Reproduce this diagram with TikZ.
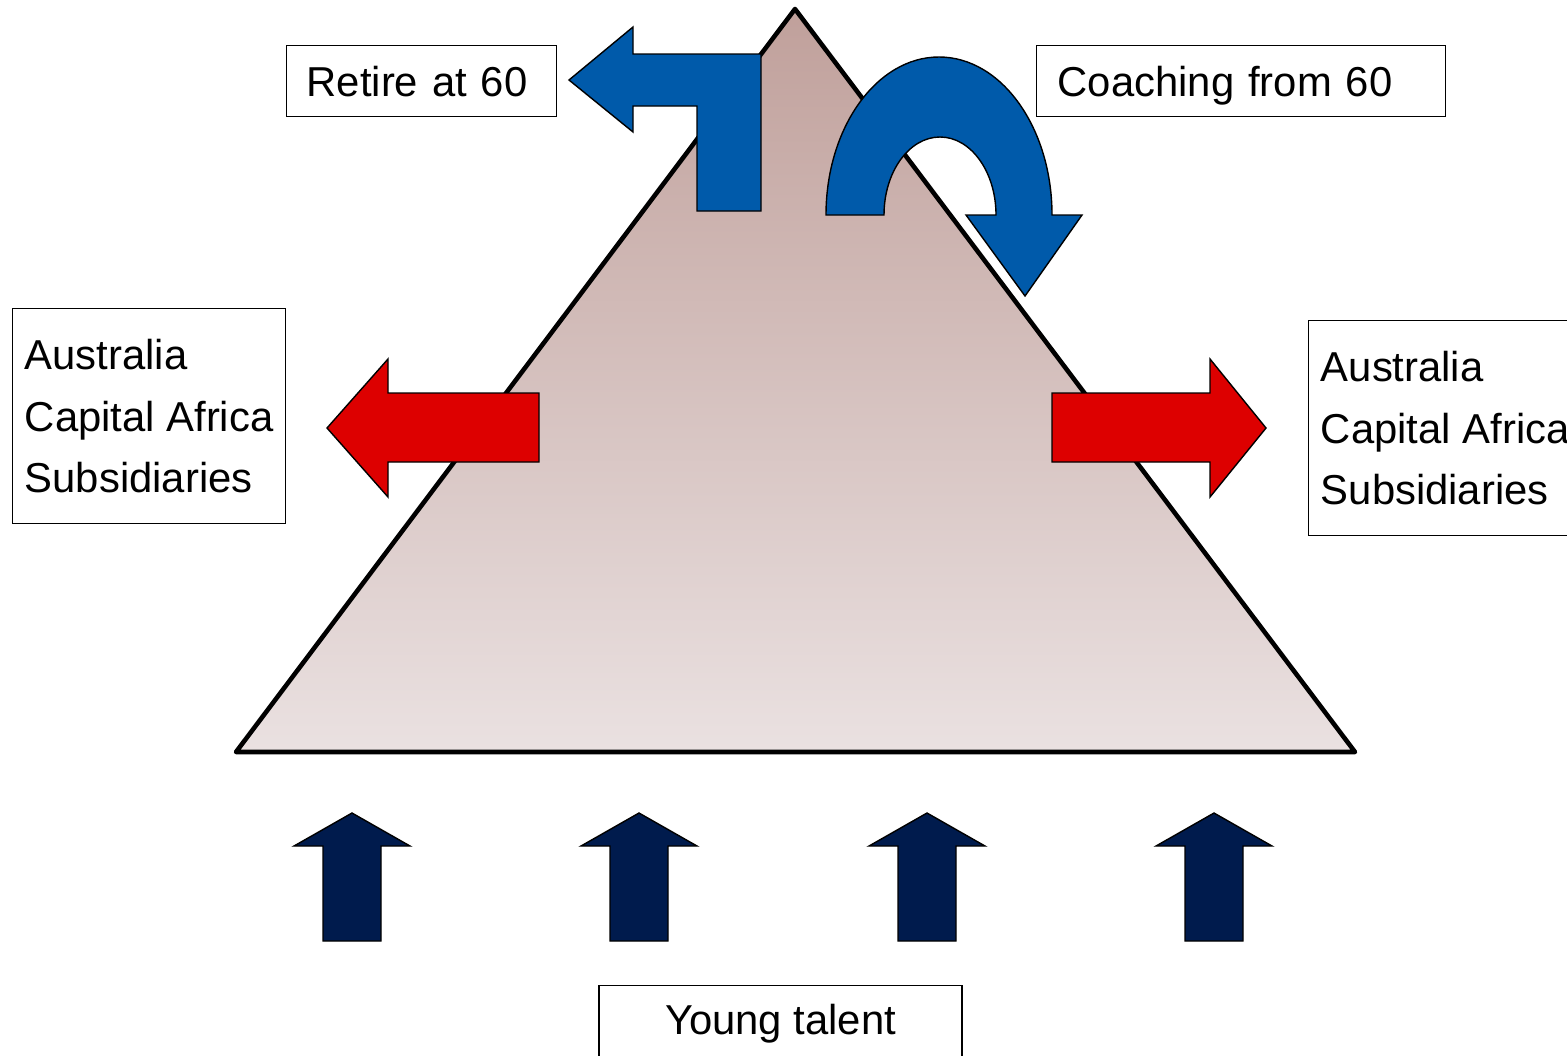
\documentclass[tikz,border=0pt]{standalone}
\usepackage{fontspec}
\setmainfont{Liberation Sans}
\usetikzlibrary{positioning}

\definecolor{pyrtop}{RGB}{192,160,155}
\definecolor{pyrbot}{RGB}{234,225,225}
\definecolor{moveblue}{RGB}{0,90,170}
\definecolor{movered}{RGB}{221,0,0}
\definecolor{talentnavy}{RGB}{0,27,77}

\begin{document}
\begin{tikzpicture}[
    x=0.02cm, y=-0.02cm,
    box/.style={draw, line width=0.8pt, align=left, inner ysep=0pt, anchor=north west, font=\fontsize{23.8}{35}\selectfont},
    tagbox/.style={box, text height=17pt, text depth=0pt, minimum height=1.42cm},
    pyramid/.style={draw, line width=2.6pt, line join=round, top color=pyrtop, bottom color=pyrbot},
    blockarrow/.style={draw, line width=0.8pt}
]
\useasboundingbox (0,0) rectangle (1567,1055);
\clip (0,0) rectangle (1567,1055);

% pyramid
\coordinate (apex) at (795,9);
\coordinate (baseR) at (1355,752);
\coordinate (baseL) at (236,752);
\draw[pyramid] (apex) -- (baseR) -- (baseL) -- cycle;

% retire: bent arrow to the left
\draw[blockarrow, fill=moveblue] (761,54) -- (761,211) -- (697,211) -- (697,106) -- (633,106)
    -- (633,132) -- (569,80) -- (633,27) -- (633,54) -- cycle;

% coaching: u-turn arrow
\draw[blockarrow, fill=moveblue] (826,215) arc[start angle=180, end angle=360, x radius=113, y radius=158]
    -- (1082,215) -- (1025,296) -- (966,215) -- (996,215)
    arc[start angle=360, end angle=180, x radius=56, y radius=78] -- cycle;

% out to the subsidiaries
\draw[blockarrow, fill=movered] (539,393) -- (539,462) -- (388,462) -- (388,497) -- (327,428)
    -- (388,359) -- (388,393) -- cycle;
\draw[blockarrow, fill=movered] (1052,393) -- (1210,393) -- (1210,359) -- (1266,428) -- (1210,497)
    -- (1210,462) -- (1052,462) -- cycle;

% young talent coming in
\foreach \x in {352,639,927,1214}
  \draw[blockarrow, fill=talentnavy] ({\x-29},941) -- ({\x-29},846) -- ({\x-58},846) -- (\x,813)
      -- ({\x+58},846) -- ({\x+29},846) -- ({\x+29},941) -- cycle;

% labels
\node[tagbox, text width=4.6cm, inner xsep=0.4cm] (retire) at (286,45) {Retire at 60};
\node[tagbox, text width=7.34cm, inner xsep=0.42cm] (coaching) at (1036,45) {Coaching from 60};
\node[box, minimum width=5.46cm, minimum height=4.3cm] (subsleft) at (12,308) {Australia\\Capital Africa\\Subsidiaries};
\node[box, minimum width=5.46cm, minimum height=4.3cm] (subsright) at (1308,320) {Australia\\Capital Africa\\Subsidiaries};
\node[box, anchor=north, align=center, minimum width=7.26cm, minimum height=1.5cm] (young) at (780.5,985) {Young talent};
\end{tikzpicture}
\end{document}
